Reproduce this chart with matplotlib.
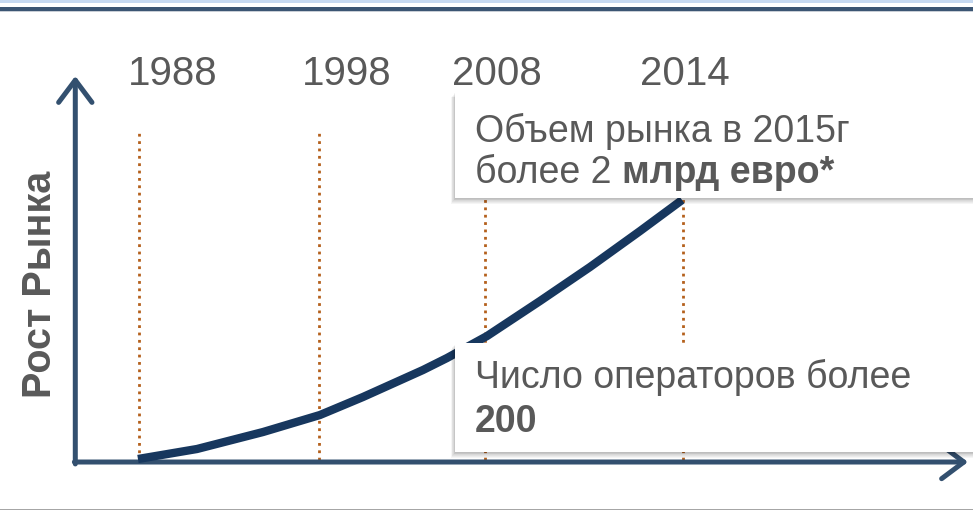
import matplotlib
matplotlib.use('Agg')
import matplotlib.pyplot as plt
from matplotlib.patches import Rectangle
from matplotlib import transforms

plt.rcParams['font.family'] = ['Liberation Sans', 'DejaVu Sans']

# timeline (x: 0..100 along the horizontal arrow, y: growth index 0..100)
years = ['1988', '1998', '2008', '2014']
year_x = [6.9, 27.1, 45.7, 68.0]

curve_x = [6.74, 13.37, 20.79, 27.19, 32.02, 38.76, 41.46, 45.96, 51.91, 57.53, 63.15, 67.87]
curve_y = [0.78, 3.37, 7.77, 12.18, 16.84, 23.83, 26.94, 32.64, 41.71, 50.52, 59.84, 67.88]

note1_line1 = 'Объем рынка в 2015г'
note1_line2 = ['более 2 ', 'млрд евро*']
note2_line1 = 'Число операторов более'
note2_line2 = '200'

axis_col = '#33506F'
curve_col = '#17375E'
dot_col = '#B4601C'
text_col = '#595959'

fig = plt.figure(figsize=(9.73, 5.12), dpi=100)
ax = fig.add_axes([0, 0, 1, 1])
ax.axis('off')
ax.set_xlim(-8.76, 100.56)
ax.set_ylim(-12.95, 119.69)

# top / bottom decoration
fig.add_artist(Rectangle((0, 1 - 3 / 512), 1, 3 / 512, transform=fig.transFigure,
                         color='#C6D9F1', lw=0))
fig.add_artist(Rectangle((0, 1 - 10.5 / 512), 1, 3.5 / 512, transform=fig.transFigure,
                         color='#3B5573', lw=0))
fig.add_artist(Rectangle((0, 1 - 11.5 / 512), 1, 1 / 512, transform=fig.transFigure,
                         color='#C8CED6', lw=0))
fig.add_artist(Rectangle((0, 2 / 512), 1, 1.5 / 512, transform=fig.transFigure,
                         color='#A6A6A6', lw=0))

# axes arrows
arrow = dict(arrowstyle='->,head_length=0.8,head_width=0.6', lw=3.6, color=axis_col,
             mutation_scale=20, shrinkA=0, shrinkB=0, capstyle='round', joinstyle='round')
ax.annotate('', xy=(100, 0), xytext=(-0.4, 0), arrowprops=arrow)
ax.annotate('', xy=(-0.3, 100), xytext=(-0.3, -0.5), arrowprops=arrow)

# year guides
for x in year_x:
    ax.plot([x, x], [0.5, 85.2], ls=':', lw=2.0, color=dot_col, zorder=1)
label_x = [10.6, 30.2, 47.1, 68.2]
for x, lab in zip(label_x, years):
    ax.text(x, 97.7, lab, ha='center', va='baseline', fontsize=29, color=text_col)

# growth curve
ax.plot(curve_x, curve_y, color=curve_col, lw=6, solid_capstyle='butt',
        solid_joinstyle='round', zorder=3)

ax.text(-4.3, 46.1, 'Рост Рынка', rotation=90, ha='center', va='center',
        fontsize=28.5, fontweight='bold', color=text_col)


def note_box(x0, y0, y1):
    for d in range(1, 8):
        tr = transforms.offset_copy(ax.transData, fig=fig, x=-d * 0.6, y=-d * 0.8, units='dots')
        ax.add_patch(Rectangle((x0, y0), 110 - x0, y1 - y0, transform=tr,
                               color='black', alpha=0.04, lw=0, zorder=4))
    ax.add_patch(Rectangle((x0, y0), 110 - x0, y1 - y0, facecolor='white',
                           lw=0, zorder=5))


note_box(42.4, 68.4, 95.9)
note_box(42.4, 2.6, 30.8)

ax.text(44.6, 82.9, note1_line1, fontsize=27, color=text_col, va='baseline', zorder=6)
t = ax.text(44.6, 72.3, note1_line2[0], fontsize=27, color=text_col, va='baseline', zorder=6)
ax.annotate(note1_line2[1], xy=(1, 0), xycoords=t, va='bottom', fontsize=27,
            fontweight='bold', color=text_col, zorder=6)

ax.text(44.6, 19.2, note2_line1, fontsize=27, color=text_col, va='baseline', zorder=6)
ax.text(44.6, 7.8, note2_line2, fontsize=27, color=text_col, va='baseline',
        fontweight='bold', zorder=6)

fig.savefig('out.png', dpi=100)
